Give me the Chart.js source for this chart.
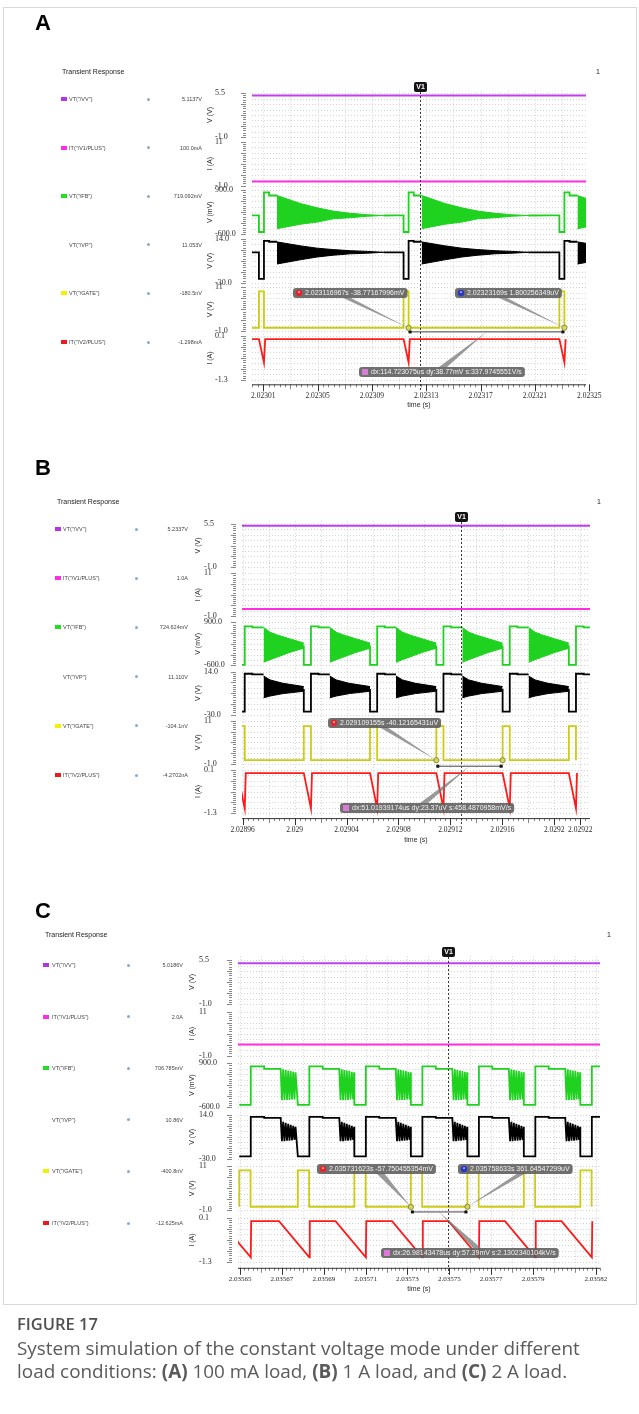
<!DOCTYPE html>
<html>
<head>
<meta charset="utf-8">
<title>Transient response, constant voltage mode</title>
<script src="https://cdn.jsdelivr.net/npm/chart.js@4.4.1/dist/chart.umd.min.js"></script>
<style>
  html, body { margin: 0; padding: 0; background: #fff; }
  #page { position: relative; width: 639px; height: 1414px; overflow: hidden; font-family: "Liberation Sans", Arial, sans-serif; }
  #page canvas { position: absolute; left: 0; top: 0; }
  .frame { position: absolute; left: 3px; top: 7px; width: 634px; height: 1298px; border: 1px solid #d9d9d9; box-sizing: border-box; }
  .cap { position: absolute; left: 17px; font-family: "Open Sans", "Noto Sans", sans-serif; color: #5a5a5a; white-space: nowrap; }
</style>
</head>
<body>
<div id="page">
  <div class="frame"></div>
  <canvas id="runA" width="639" height="1414"></canvas>
  <canvas id="runB" width="639" height="1414"></canvas>
  <canvas id="runC" width="639" height="1414"></canvas>
  <div class="cap" style="top:1312px;font-size:16.5px;font-weight:600;color:#505050;">FIGURE 17</div>
  <div class="cap" style="top:1335px;font-size:18.9px;">System simulation of the constant voltage mode under different</div>
  <div class="cap" style="top:1358px;font-size:18.9px;">load conditions: <b>(A)</b> 100 mA load, <b>(B)</b> 1 A load, and <b>(C)</b> 2 A load.</div>
</div>
<script>
// traces, top to bottom, shared by the three runs
const traceNames = ['VT("/VV")', 'IT("/V1/PLUS")', 'VT("/FB")', 'VT("/VP")', 'VT("/GATE")', 'IT("/V2/PLUS")'];
const traceUnits = ['V (V)', 'I (A)', 'V (mV)', 'V (V)', 'V (V)', 'I (A)'];
const stripLow = [-1.0, -1.0, -600, -30, -1.0, -1.3];
const stripHigh = [5.5, 11, 900, 14, 11, 0.1];
const stripLowText = ['-1.0', '-1.0', '-600.0', '-30.0', '-1.0', '-1.3'];
const stripHighText = ['5.5', '11', '900.0', '14.0', '11', '0.1'];
const traceColors = ['#c13ef0', '#ff2ee6', '#1fd21f', '#000000', '#cccc12', '#ff1a1a'];
const swatchColors = ['#b534ea', '#ff2de3', '#1ee01e', null, '#f2f200', '#f01818'];

// ---- (A) 100 mA load
const timeTicksA = [2.02301, 2.02305, 2.02309, 2.02313, 2.02317, 2.02321, 2.02325];
const timeLabelsA = ['2.02301', '2.02305', '2.02309', '2.02313', '2.02317', '2.02321', '2.02325'];
const gateRiseA = [2.0230068, 2.0231133, 2.023228];
const legendA = ['5.1137V', '100.0mA', '719.092mV', '11.053V', '-180.5nV', '-1.298mA'];
const vvA = 5.1137;
const iSupplyA = 0.1;
// [us after gate rise, value]
const fbShapeA = [[-6, 40], [0, 40], [0, -525], [3.7, -525], [3.7, 825], [7.5, 825], [7.5, 719.1], [13.3, 719.1], [13.3, null], [91.7, 37]];
const fbRingTopA = [[13.3, 719.1], [30.3, 450], [42.9, 300], [54.7, 187], [67.3, 112], [79.9, 64], [91.7, 37]];
const fbRingBotA = [[13.3, -412], [30.3, -262], [42.9, -187], [54.7, -75], [67.3, -37], [79.9, 12], [91.7, 37]];
const vpShapeA = [[-6, 0.5], [0, 0.5], [0, -26], [3.7, -26], [3.7, 12.0], [7.5, 12.0], [7.5, 11.05], [13.3, 11.05], [13.3, null], [91.7, 0.5]];
const vpRingTopA = [[13.3, 10.9], [30.3, 7.0], [42.9, 4.6], [54.7, 3.2], [67.3, 2.1], [79.9, 1.4], [91.7, 0.5]];
const vpRingBotA = [[13.3, -11.2], [30.3, -7.0], [42.9, -4.2], [54.7, -2.4], [67.3, -1.0], [79.9, -0.4], [91.7, 0.5]];
const gateShapeA = [[-6, 0], [0, 0], [0, 9.9], [3.7, 9.9], [3.7, 0]];
const ioutShapeA = [[-6, 0], [0, 0], [3.7, -0.74], [4.6, 0]];
const v1A = 2.0231251;
const cursorsA = [
  { kind: 'red', t: 2.023116967, v: -0.03877167996, text: '2.023116967s -38.77167996mV', box: [293, 288], from: [347, 298] },
  { kind: 'blue', t: 2.02323169, v: 1.800256349e-6, text: '2.02323169s 1.800256349uV', box: [455, 288], from: [503, 298] }
];
const deltaA = { text: 'dx:114.723075us dy:38.77mV s:337.9745551V/s', box: [359, 367], from: [443, 367] };

// ---- (B) 1 A load
const timeTicksB = [2.02896, 2.029, 2.02904, 2.02908, 2.02912, 2.02916, 2.0292, 2.02922];
const timeLabelsB = ['2.02896', '2.029', '2.02904', '2.02908', '2.02912', '2.02916', '2.0292', '2.02922'];
const gateRiseB = [2.0289561, 2.0290071, 2.0290581, 2.029109155, 2.0291602, 2.0292112];
const legendB = ['5.2337V', '1.0A', '724.624mV', '11.110V', '-104.1nV', '-4.2702nA'];
const vvB = 5.2337;
const iSupplyB = 1.0;
const fbShapeB = [[0, 90], [0, -580], [5.5, -580], [5.5, 760], [11.4, 760], [11.4, 724.6], [20.0, 724.6], [20.0, null]];
const fbRingTopB = [[20.0, 724.6], [25, 560], [30, 470], [40, 330], [51.0, 180]];
const fbRingBotB = [[20.0, -491], [25, -400], [30, -320], [40, -150], [51.0, 0]];
const vpShapeB = [[0, -3.7], [0, -27], [5.5, -27], [5.5, 11.8], [11.4, 11.8], [11.4, 11.11], [20.0, 11.11], [20.0, null]];
const vpRingTopB = [[20.0, 9.5], [25, 5.5], [35, 2.0], [51.0, -1.3]];
const vpRingBotB = [[20.0, -12.8], [25, -11.0], [35, -8.5], [51.0, -6.1]];
const gateShapeB = [[0, 0], [0, 9.5], [5.5, 9.5], [5.5, 0]];
const ioutShapeB = [[0, 0], [5.5, -1.15], [6.3, 0]];
const v1B = 2.0291285;
const cursorsB = [
  { kind: 'red', t: 2.029109155, v: -40.12165431e-6, text: '2.029109155s -40.12165431uV', box: [328, 718], from: [383, 727] },
  { kind: 'blue', t: 2.029160174, v: -16.75e-6, text: null }
];
const deltaB = { text: 'dx:51.01939174us dy:23.37uV s:458.4870958mV/s', box: [340, 803], from: [424, 803] };

// ---- (C) 2 A load
const timeTicksC = [2.03565, 2.03567, 2.03569, 2.03571, 2.03573, 2.03575, 2.03577, 2.03579, 2.03582];
const timeLabelsC = ['2.03565', '2.03567', '2.03569', '2.03571', '2.03573', '2.03575', '2.03577', '2.03579', '2.03582'];
const gateRiseC = [2.0356496, 2.0356776, 2.0357046, 2.035731623, 2.035758633, 2.0357856, 2.0358126];
const legendC = ['5.0186V', '2.0A', '706.785mV', '10.86V', '-400.8nV', '-12.625mA'];
const vvC = 5.0186;
const iSupplyC = 2.0;
const fbShapeC = [[0, -518], [5.5, -518], [5.5, 793], [11.9, 793], [11.9, 706.8], [19.8, 706.8],
  [20.4, -360], [21.0, 690], [21.6, -360], [22.2, 670], [22.8, -350], [23.4, 650], [24.0, -350],
  [24.6, 630], [25.2, -340], [25.8, 610], [26.4, -340], [26.9, 590]];
const vpShapeC = [[0, -27.5], [5.5, -27.5], [5.5, 11.9], [11.9, 11.9], [11.9, 10.86], [19.8, 10.86],
  [20.4, -12.5], [21.0, 7.0], [21.6, -12.5], [22.2, 6.0], [22.8, -12.0], [23.4, 5.0], [24.0, -12.0],
  [24.6, 4.0], [25.2, -11.5], [25.8, 3.0], [26.4, -11.0], [26.9, 2.0]];
const gateShapeC = [[0, 0], [0, 9.9], [5.4, 9.9], [5.4, 0]];
const ioutShapeC = [[-9.0, 0], [5.5, -1.15], [5.7, 0]];
const v1C = 2.0357494;
const cursorsC = [
  { kind: 'red', t: 2.035731623, v: -57.750455354e-3, text: '2.035731623s -57.750455354mV', box: [317, 1164], from: [380, 1173] },
  { kind: 'blue', t: 2.035758633, v: 361.64547299e-6, text: '2.035758633s 361.64547299uV', box: [458, 1164], from: [522, 1173] }
];
const deltaC = { text: 'dx:26.98143478us dy:57.39mV s:2.1302340104kV/s', box: [381, 1248], from: [477, 1248] };

// page geometry of the three plots
const runs = [
  { canvas: 'runA', letter: 'A', letterY: 23, trX: 62, trY: 72, oneX: 596,
    legY: 99, swX: 61, nameX: 69, dotX: 148, valRight: 202, unitX: 210,
    labelLeft: 215, chartLeft: 252, chartRight: 586, top: 90.7, bottom: 382.3, pad: 2.3, xAxisH: 27, tickFont: 7.5,
    tmin: 2.0230017, tmax: 2.0232476, gridFrom: 2.02301, gridStep: 20e-6, rulerStep: 4e-6, v1Y: 87, measureDy: 4,
    ticks: timeTicksA, labels: timeLabelsA, rises: gateRiseA, legend: legendA, vv: vvA, isup: iSupplyA,
    fb: fbShapeA, fbTop: fbRingTopA, fbBot: fbRingBotA, vp: vpShapeA, vpTop: vpRingTopA, vpBot: vpRingBotA,
    gate: gateShapeA, iout: ioutShapeA, v1: v1A, cursors: cursorsA, delta: deltaA },
  { canvas: 'runB', letter: 'B', letterY: 468, trX: 57, trY: 502, oneX: 597,
    legY: 529, swX: 55, nameX: 63, dotX: 136, valRight: 188, unitX: 198,
    labelLeft: 204, chartLeft: 242, chartRight: 590, top: 520.9, bottom: 816.1, pad: 3.1, xAxisH: 28, tickFont: 7.5,
    tmin: 2.0289595, tmax: 2.0292275, gridFrom: 2.02896, gridStep: 20e-6, rulerStep: 4e-6, v1Y: 517, measureDy: 6,
    ticks: timeTicksB, labels: timeLabelsB, rises: gateRiseB, legend: legendB, vv: vvB, isup: iSupplyB,
    fb: fbShapeB, fbTop: fbRingTopB, fbBot: fbRingBotB, vp: vpShapeB, vpTop: vpRingTopB, vpBot: vpRingBotB,
    gate: gateShapeB, iout: ioutShapeB, v1: v1B, cursors: cursorsB, delta: deltaB },
  { canvas: 'runC', letter: 'C', letterY: 911, trX: 45, trY: 935, oneX: 607,
    legY: 965, swX: 43, nameX: 52, dotX: 128, valRight: 183, unitX: 192,
    labelLeft: 199, chartLeft: 238, chartRight: 600, top: 956.2, bottom: 1265.8, pad: 3.8, xAxisH: 27, tickFont: 7,
    tmin: 2.035649, tmax: 2.035822, gridFrom: 2.03565, gridStep: 10e-6, rulerStep: 2e-6, v1Y: 952, measureDy: 5,
    ticks: timeTicksC, labels: timeLabelsC, rises: gateRiseC, legend: legendC, vv: vvC, isup: iSupplyC,
    fb: fbShapeC, vp: vpShapeC, gate: gateShapeC, iout: ioutShapeC, v1: v1C, cursors: cursorsC, delta: deltaC }
];

const page = document.getElementById('page');
function addText(text, x, cy, font, color, align) {
  const el = document.createElement('div');
  el.textContent = text;
  el.style.cssText = 'position:absolute;white-space:nowrap;font:' + font + ';line-height:20px;height:20px;top:' + (cy - 10) + 'px;color:' + color + ';';
  if (align === 'right') el.style.right = (639 - x) + 'px';
  else el.style.left = x + 'px';
  page.appendChild(el);
  return el;
}
function addBox(x, y, w, h, css) {
  const el = document.createElement('div');
  el.style.cssText = 'position:absolute;left:' + x + 'px;top:' + y + 'px;width:' + w + 'px;height:' + h + 'px;' + css;
  page.appendChild(el);
}

function shapePoints(starts, shape) {
  const pts = [];
  starts.forEach(t0 => shape.forEach(([dt, v]) => pts.push({ x: t0 + dt * 1e-6, y: v })));
  return pts;
}
function lineSet(data, axis, color, width) {
  return { data, xAxisID: 'x', yAxisID: axis, borderColor: color, backgroundColor: color,
    borderWidth: width || 1.8, pointRadius: 0, fill: false, tension: 0, spanGaps: false };
}
function ringSets(starts, top, bot, axis, color) {
  const out = [];
  starts.forEach(t0 => {
    const up = lineSet(top.map(([dt, v]) => ({ x: t0 + dt * 1e-6, y: v })), axis, color, 1);
    up.fill = '+1';
    out.push(up, lineSet(bot.map(([dt, v]) => ({ x: t0 + dt * 1e-6, y: v })), axis, color, 1));
  });
  return out;
}

function buildScales(R) {
  const h = (R.bottom - R.top) / 6;
  const scales = {};
  for (let i = 0; i < 6; i++) {
    const lo = stripLow[i], hi = stripHigh[i];
    const ext = (hi - lo) * R.pad / (h - 2 * R.pad);
    scales['s' + i] = {
      type: 'linear', position: 'left', stack: 'strips', stackWeight: 1, weight: 6 - i,
      min: lo - ext, max: hi + ext,
      afterBuildTicks: s => { s.ticks = [{ value: lo }, { value: hi }]; },
      afterFit: s => { s.width = R.chartLeft - R.labelLeft; },
      grid: { display: false, drawTicks: false }, border: { display: false },
      ticks: { crossAlign: 'far', padding: 0, color: '#2a2a2a', autoSkip: false,
        font: { family: 'Liberation Serif', size: 8 },
        callback: v => (v === lo ? stripLowText[i] : stripHighText[i]) }
    };
  }
  scales.x = {
    type: 'linear', position: 'bottom', min: R.tmin, max: R.tmax,
    afterBuildTicks: s => { s.ticks = R.ticks.map(v => ({ value: v })); },
    afterFit: s => { s.height = R.xAxisH; },
    grid: { display: false, drawTicks: true, tickLength: 8 }, border: { display: false },
    ticks: { autoSkip: false, maxRotation: 0, minRotation: 0, padding: 1, color: '#2a2a2a',
      font: { family: 'Liberation Serif', size: R.tickFont }, callback: (v, i) => R.labels[i] },
    title: { display: true, text: 'time (s)', color: '#2a2a2a', padding: 0,
      font: { family: 'Liberation Sans', size: 7 } }
  };
  return scales;
}

function pill(ctx, x, y, text, kind) {
  ctx.font = '7px "Liberation Sans"';
  const w = ctx.measureText(text).width + 15, h = 10;
  ctx.fillStyle = 'rgba(92,92,92,0.88)';
  ctx.beginPath();
  ctx.roundRect(x, y, w, h, 3);
  ctx.fill();
  if (kind === 'delta') {
    ctx.fillStyle = '#d77bd7';
    ctx.fillRect(x + 3, y + 2, 6, 6);
  } else {
    ctx.fillStyle = kind === 'red' ? '#e3262a' : '#2837c8';
    ctx.beginPath();
    ctx.arc(x + 6, y + 5, 3.2, 0, Math.PI * 2);
    ctx.fill();
    ctx.fillStyle = 'rgba(255,255,255,0.8)';
    ctx.fillRect(x + 5, y + 3.5, 2, 1.2);
  }
  ctx.fillStyle = '#f4f4f4';
  ctx.textBaseline = 'middle';
  ctx.textAlign = 'left';
  ctx.fillText(text, x + 12, y + h / 2 + 0.5);
}
function wedge(ctx, from, to) {
  ctx.fillStyle = 'rgba(120,120,120,0.75)';
  ctx.beginPath();
  ctx.moveTo(from[0] - 4, from[1]);
  ctx.lineTo(from[0] + 4, from[1]);
  ctx.lineTo(to[0], to[1]);
  ctx.closePath();
  ctx.fill();
}

function scopeDecor(R) {
  return {
    id: 'scopeDecor' + R.letter,
    beforeDatasetsDraw(chart) {
      const { ctx, chartArea: a, scales } = chart;
      const xs = scales.x;
      ctx.save();
      // dotted grid
      ctx.lineWidth = 0.8;
      ctx.strokeStyle = '#c9c9c9';
      ctx.setLineDash([1, 2]);
      const nx = Math.floor((R.tmax - R.gridFrom) / R.gridStep + 1e-6);
      for (let k = 0; k <= nx; k++) {
        const px = Math.round(xs.getPixelForValue(R.gridFrom + k * R.gridStep)) + 0.5;
        ctx.beginPath(); ctx.moveTo(px, a.top); ctx.lineTo(px, a.bottom); ctx.stroke();
      }
      for (let i = 0; i < 6; i++) {
        const s = scales['s' + i];
        for (let k = 0; k <= 8; k++) {
          const py = Math.round(s.getPixelForValue(stripLow[i] + (stripHigh[i] - stripLow[i]) * k / 8)) + 0.5;
          ctx.beginPath(); ctx.moveTo(a.left, py); ctx.lineTo(a.right, py); ctx.stroke();
        }
      }
      ctx.setLineDash([]);
      // ruler marks on each strip
      ctx.strokeStyle = '#555';
      ctx.lineWidth = 0.7;
      for (let i = 0; i < 6; i++) {
        const s = scales['s' + i];
        for (let k = 0; k <= 20; k++) {
          const py = Math.round(s.getPixelForValue(stripLow[i] + (stripHigh[i] - stripLow[i]) * k / 20)) + 0.5;
          const len = k % 5 === 0 ? 5 : 3;
          ctx.beginPath(); ctx.moveTo(a.left - 6 - len, py); ctx.lineTo(a.left - 6, py); ctx.stroke();
        }
      }
      // time ruler
      const nr = Math.floor((R.tmax - R.gridFrom) / R.rulerStep + 1e-6);
      for (let k = -2; k <= nr; k++) {
        const t = R.gridFrom + k * R.rulerStep;
        if (t < R.tmin) continue;
        const px = Math.round(xs.getPixelForValue(t)) + 0.5;
        const len = k % 5 === 0 ? 5 : 3;
        ctx.beginPath(); ctx.moveTo(px, a.bottom + 2); ctx.lineTo(px, a.bottom + 2 + len); ctx.stroke();
      }
      ctx.lineWidth = 1;
      ctx.strokeStyle = '#333';
      R.ticks.forEach(t => {
        const px = Math.round(xs.getPixelForValue(t)) + 0.5;
        ctx.beginPath(); ctx.moveTo(px, a.bottom + 2); ctx.lineTo(px, a.bottom + 9); ctx.stroke();
      });
      ctx.beginPath(); ctx.moveTo(a.left, a.bottom + 2.5); ctx.lineTo(a.right, a.bottom + 2.5); ctx.stroke();
      // unit titles
      ctx.fillStyle = '#2a2a2a';
      ctx.font = '7px "Liberation Sans"';
      ctx.textAlign = 'center';
      ctx.textBaseline = 'middle';
      for (let i = 0; i < 6; i++) {
        const s = scales['s' + i];
        ctx.save();
        ctx.translate(R.unitX, (s.top + s.bottom) / 2);
        ctx.rotate(-Math.PI / 2);
        ctx.fillText(traceUnits[i], 0, 0);
        ctx.restore();
      }
      ctx.restore();
    },
    afterDatasetsDraw(chart) {
      const { ctx, chartArea: a, scales } = chart;
      const xs = scales.x, gs = scales.s4;
      ctx.save();
      // V1 vertical cursor
      const vx = Math.round(xs.getPixelForValue(R.v1)) + 0.5;
      ctx.strokeStyle = '#222';
      ctx.lineWidth = 0.9;
      ctx.setLineDash([2, 2]);
      ctx.beginPath(); ctx.moveTo(vx, R.v1Y + 5); ctx.lineTo(vx, a.bottom + 8); ctx.stroke();
      ctx.setLineDash([]);
      ctx.fillStyle = '#141414';
      ctx.beginPath(); ctx.roundRect(vx - 6.5, R.v1Y - 5, 13, 10, 2); ctx.fill();
      ctx.fillStyle = '#fff';
      ctx.font = 'bold 7px "Liberation Sans"';
      ctx.textAlign = 'center';
      ctx.textBaseline = 'middle';
      ctx.fillText('V1', vx, R.v1Y + 0.5);
      // point cursors and delta measurement
      const pts = R.cursors.map(c => [xs.getPixelForValue(c.t), gs.getPixelForValue(c.v)]);
      const my = pts[0][1] + R.measureDy;
      R.cursors.forEach((c, i) => { if (c.text) wedge(ctx, c.from, pts[i]); });
      wedge(ctx, R.delta.from, [(pts[0][0] + pts[1][0]) / 2, my]);
      ctx.strokeStyle = '#444';
      ctx.lineWidth = 1;
      ctx.beginPath(); ctx.moveTo(pts[0][0], my); ctx.lineTo(pts[1][0], my); ctx.stroke();
      ctx.fillStyle = '#111';
      ctx.fillRect(pts[0][0], my - 1.5, 3, 3);
      ctx.fillRect(pts[1][0] - 3, my - 1.5, 3, 3);
      pts.forEach(p => {
        ctx.fillStyle = 'rgba(214,214,90,0.9)';
        ctx.strokeStyle = '#8a8a30';
        ctx.beginPath(); ctx.arc(p[0], p[1], 2.6, 0, Math.PI * 2); ctx.fill(); ctx.stroke();
      });
      R.cursors.forEach(c => { if (c.text) pill(ctx, c.box[0], c.box[1], c.text, c.kind); });
      pill(ctx, R.delta.box[0], R.delta.box[1], R.delta.text, 'delta');
      ctx.restore();
    }
  };
}

runs.forEach(R => {
  // headings and the trace list on the left
  addText(R.letter, 35, R.letterY, 'bold 22px "Liberation Sans"', '#000');
  addText('Transient Response', R.trX, R.trY, '7px "Liberation Sans"', '#222');
  addText('1', R.oneX, R.trY, '7px "Liberation Sans"', '#222');
  const pitch = (R.bottom - R.top) / 6;
  for (let i = 0; i < 6; i++) {
    const y = R.legY + i * pitch;
    if (swatchColors[i]) addBox(R.swX, y - 2, 6, 4, 'background:' + swatchColors[i] + ';');
    addText(traceNames[i], R.nameX, y, '5.5px "Liberation Sans"', '#444');
    addBox(R.dotX - 1.5, y - 1.5, 3, 3, 'border-radius:50%;background:#86a9d6;');
    addText(R.legend[i], R.valRight, y, '5.5px "Liberation Sans"', '#444', 'right');
  }

  const datasets = [
    lineSet([{ x: R.tmin, y: R.vv }, { x: R.tmax, y: R.vv }], 's0', traceColors[0], 2),
    lineSet([{ x: R.tmin, y: R.isup }, { x: R.tmax, y: R.isup }], 's1', traceColors[1], 2)
  ];
  if (R.fbTop) datasets.push(...ringSets(R.rises, R.fbTop, R.fbBot, 's2', traceColors[2]));
  datasets.push(lineSet(shapePoints(R.rises, R.fb), 's2', traceColors[2]));
  if (R.vpTop) datasets.push(...ringSets(R.rises, R.vpTop, R.vpBot, 's3', traceColors[3]));
  datasets.push(lineSet(shapePoints(R.rises, R.vp), 's3', traceColors[3]));
  datasets.push(lineSet(shapePoints(R.rises, R.gate), 's4', traceColors[4]));
  datasets.push(lineSet(shapePoints(R.rises, R.iout), 's5', traceColors[5]));

  new Chart(document.getElementById(R.canvas), {
    type: 'line',
    data: { datasets },
    options: {
      responsive: false,
      animation: false,
      parsing: false,
      events: [],
      layout: { padding: { left: R.labelLeft, right: 639 - R.chartRight, top: R.top, bottom: 1414 - R.bottom - R.xAxisH } },
      plugins: { legend: { display: false }, tooltip: { enabled: false } },
      scales: buildScales(R)
    },
    plugins: [scopeDecor(R)]
  });
});
</script>
</body>
</html>
